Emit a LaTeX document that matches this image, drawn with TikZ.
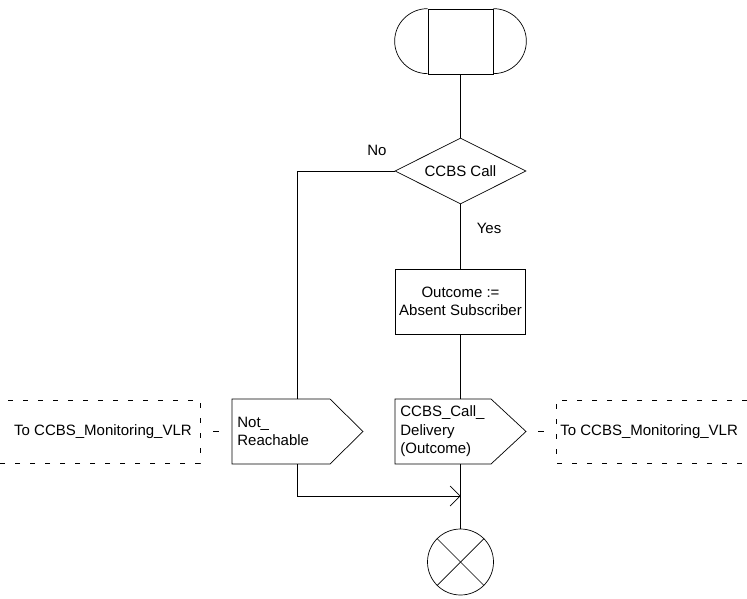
\documentclass[tikz,border=0pt]{standalone}
\usepackage{fontspec}
\setmainfont{Liberation Sans}
\usetikzlibrary{shapes.geometric,arrows.meta}
\begin{document}
\begin{tikzpicture}[x=1pt,y=-1pt,line width=0.7pt,
  font=\fontsize{15}{18.5}\selectfont,
  procbox/.style={draw, minimum width=130pt, minimum height=65pt, inner sep=0pt, align=center},
  decbox/.style={draw, diamond, aspect=1.985, minimum width=131pt, minimum height=66pt, inner sep=0pt},
  lbl/.style={inner sep=0pt},
  sigtext/.style={inner sep=0pt, align=left, anchor=west},
  dsh/.style={dash pattern=on 5pt off 10pt},
  arr/.style={-{Straight Barb[length=10pt,width=20pt]}}]
\useasboundingbox (0,0) rectangle (747,599);

% start symbol
\node[draw, minimum width=65pt, minimum height=65pt, inner sep=0pt] (start) at (460.5,41.5) {};
\draw (start.north west) arc[start angle=270, end angle=90, x radius=33, y radius=32.5];
\draw (start.north east) arc[start angle=-90, end angle=90, x radius=33, y radius=32.5];

% decision
\node[decbox] (dec) at (460.5,171) {CCBS Call};
\node[lbl] (no) at (377,150) {No};
\node[lbl] (yes) at (489,228) {Yes};

% task
\node[procbox] (outc) at (460.5,301.5) {Outcome :=\\Absent Subscriber};

% output signal Not_Reachable
\draw (232,399) -- (330,399) -- (363,431.5) -- (330,464) -- (232,464) -- cycle;
\coordinate (nrtop) at (297,399);
\coordinate (nrbot) at (297,464);
\coordinate (nrw) at (232,431.5);
\node[sigtext] (nr) at (237,431.5) {Not\_\\Reachable};

% output signal CCBS_Call_Delivery
\draw (395,399) -- (491,399) -- (526,431.5) -- (491,464) -- (395,464) -- cycle;
\coordinate (cdtop) at (460.5,399);
\coordinate (cdbot) at (460.5,464);
\coordinate (cde) at (526,431.5);
\node[sigtext] (cd) at (400,431.5) {CCBS\_Call\_\\Delivery\\(Outcome)};

% dashed text boxes
\draw[dsh, dash phase=-8pt] (0,400) -- (200,400) -- (200,463) -- (0,463);
\coordinate (lbe) at (200,431.5);
\node[lbl] (lbt) at (103,432) {To CCBS\_Monitoring\_VLR};
\draw[dsh] (747,400) -- (556,400) -- (556,463) -- (747,463);
\coordinate (rbw) at (556,431.5);
\node[lbl, anchor=west] (rbt) at (560,432) {To CCBS\_Monitoring\_VLR};

% stop
\node[draw, circle, minimum size=66pt, inner sep=0pt] (stop) at (460.5,562) {};
\draw (stop.north west) -- (stop.south east);
\draw (stop.north east) -- (stop.south west);

% connectors
\coordinate (join) at (460.5,496);
\draw (start.south) -- (dec.north);
\draw (dec.south) -- (outc.north);
\draw (outc.south) -- (cdtop);
\draw (cdbot) -- (stop.north);
\draw (dec.west) -| (nrtop);
\draw[arr] (nrbot) |- (join);
\draw[dash pattern=on 6pt off 26pt, dash phase=19pt] (lbe) -- (nrw);
\draw[dash pattern=on 6pt off 24pt, dash phase=18pt] (cde) -- (rbw);
\end{tikzpicture}
\end{document}
